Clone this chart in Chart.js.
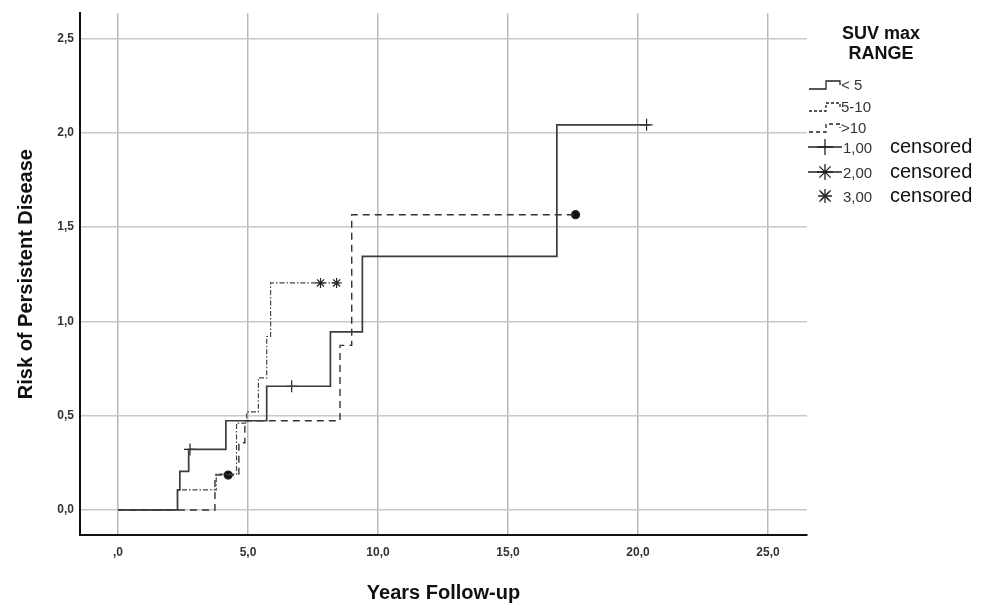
<!DOCTYPE html>
<html>
<head>
<meta charset="utf-8">
<script src="https://cdn.jsdelivr.net/npm/chart.js@4.4.1/dist/chart.umd.min.js"></script>
<style>
html, body { margin: 0; padding: 0; background: #fff; }
</style>
</head>
<body>
<canvas id="kmChart" width="992" height="605"></canvas>
<script>
// Cumulative hazard, step curves per SUV max range
const lt5Years = [0, 2.29, 2.38, 2.72, 4.15, 5.72, 8.17, 9.40, 16.88, 20.45];
const lt5Risk = [0, 0.106, 0.205, 0.321, 0.473, 0.656, 0.945, 1.345, 2.043, 2.043];
const lt5CensorYears = [2.77, 6.68, 20.33];
const lt5CensorRisk = [0.321, 0.656, 2.043];

const midYears = [0, 2.29, 3.78, 4.56, 4.95, 5.40, 5.72, 5.87, 8.41];
const midRisk = [0, 0.106, 0.19, 0.46, 0.52, 0.70, 0.92, 1.204, 1.204];
const midCensorYears = [7.79, 8.41];
const midCensorRisk = [1.204, 1.204];

const gt10Years = [0, 3.73, 4.65, 4.88, 8.54, 8.99, 17.6];
const gt10Risk = [0, 0.185, 0.356, 0.473, 0.873, 1.566, 1.566];
const gt10CensorYears = [4.24, 17.6];
const gt10CensorRisk = [0.185, 1.566];

const xTickValues = [0, 5, 10, 15, 20, 25];
const xTickLabels = [',0', '5,0', '10,0', '15,0', '20,0', '25,0'];
const yTickValues = [0, 0.5, 1, 1.5, 2, 2.5];
const yTickLabels = ['0,0', '0,5', '1,0', '1,5', '2,0', '2,5'];

const legendTitle = ['SUV max', 'RANGE'];
const groupLabels = ['< 5', '5-10', '>10'];
const censorLabels = ['1,00', '2,00', '3,00'];

const toPoints = (xs, ys) => xs.map((x, i) => ({ x: x, y: ys[i] }));

function stepLine(label, xs, ys, color, width, dash) {
    return {
        label: label,
        data: toPoints(xs, ys),
        showLine: true,
        stepped: 'before',
        borderColor: color,
        borderWidth: width,
        borderDash: dash,
        pointRadius: 0,
        fill: false
    };
}

function censorMarks(label, xs, ys, style, radius) {
    return {
        label: label,
        data: toPoints(xs, ys),
        showLine: false,
        pointStyle: style,
        pointRadius: radius,
        pointBorderColor: '#222',
        pointBackgroundColor: '#111',
        pointBorderWidth: 1.2
    };
}

const tickFont = { family: "'Liberation Sans Narrow', 'Liberation Sans', Arial", size: 12, weight: 'bold' };
const titleFont = { family: "'Liberation Sans', Arial", size: 20, weight: 'bold' };

// legend on the right, drawn by hand
const sideLegend = {
    id: 'sideLegend',
    afterDraw(chart) {
        const c = chart.ctx;
        c.save();
        c.fillStyle = '#111';
        c.textAlign = 'center';
        c.textBaseline = 'middle';
        c.font = "bold 18px 'Liberation Sans', Arial";
        c.fillText(legendTitle[0], 881, 34);
        c.fillText(legendTitle[1], 881, 54);

        const rows = [85, 107, 128];
        const dashes = [[], [3, 2], [4, 3]];
        c.strokeStyle = '#222';
        c.lineWidth = 1.3;
        rows.forEach((y, i) => {
            c.setLineDash(dashes[i]);
            c.beginPath();
            c.moveTo(809, y + 4);
            c.lineTo(826, y + 4);
            c.lineTo(826, y - 4);
            c.lineTo(840, y - 4);
            c.lineTo(840, y);
            c.stroke();
        });
        c.setLineDash([]);
        c.textAlign = 'left';
        c.font = "15px 'Liberation Sans', Arial";
        c.fillStyle = '#333';
        rows.forEach((y, i) => c.fillText(groupLabels[i], 841, y + 1));

        const cRows = [147, 172, 196];
        const styles = ['cross', 'star', 'crossRot'];
        cRows.forEach((y, i) => {
            if (i < 2) {
                c.beginPath();
                c.moveTo(808, y);
                c.lineTo(842, y);
                c.stroke();
            }
            Chart.helpers.drawPoint(c, { pointStyle: styles[i], radius: 8, borderWidth: 1.3 }, 825, y);
            if (i === 2) {
                Chart.helpers.drawPoint(c, { pointStyle: 'cross', radius: 7, borderWidth: 2.5 }, 825, y);
                Chart.helpers.drawPoint(c, { pointStyle: 'crossRot', radius: 6, borderWidth: 2.5 }, 825, y);
            }
            c.fillStyle = '#333';
            c.font = "15px 'Liberation Sans', Arial";
            c.fillText(censorLabels[i], 843, y + 2);
            c.fillStyle = '#111';
            c.font = "20px 'Liberation Sans', Arial";
            c.fillText('censored', 890, y);
        });
        c.restore();
    }
};

new Chart(document.getElementById('kmChart'), {
    type: 'scatter',
    data: {
        datasets: [
            stepLine(groupLabels[0], lt5Years, lt5Risk, '#3c3c3c', 1.7, []),
            stepLine(groupLabels[1], midYears, midRisk, '#444', 1.2, [5, 2, 1.5, 2]),
            stepLine(groupLabels[2], gt10Years, gt10Risk, '#333', 1.4, [7, 5]),
            censorMarks(censorLabels[0], lt5CensorYears, lt5CensorRisk, 'cross', 6),
            censorMarks(censorLabels[1], midCensorYears, midCensorRisk, 'star', 5),
            censorMarks(censorLabels[2], gt10CensorYears, gt10CensorRisk, 'circle', 4)
        ]
    },
    options: {
        responsive: false,
        animation: false,
        layout: { padding: { top: 12, right: 185, left: 0, bottom: 0 } },
        plugins: {
            legend: { display: false },
            tooltip: { enabled: false }
        },
        scales: {
            x: {
                type: 'linear',
                min: -1.46,
                max: 26.5,
                afterBuildTicks: s => { s.ticks = xTickValues.map(v => ({ value: v })); },
                afterFit: s => { s.height = 70; },
                ticks: {
                    font: tickFont,
                    color: '#333',
                    padding: 10,
                    maxRotation: 0,
                    callback: v => xTickLabels[xTickValues.indexOf(v)]
                },
                grid: { color: '#b8b8b8', lineWidth: 1.5, drawTicks: false },
                border: { display: true, color: '#111', width: 2 },
                title: {
                    display: true,
                    text: 'Years Follow-up',
                    font: titleFont,
                    color: '#111',
                    padding: { top: 4, bottom: 0 }
                }
            },
            y: {
                type: 'linear',
                min: -0.133,
                max: 2.635,
                afterBuildTicks: s => { s.ticks = yTickValues.map(v => ({ value: v })); },
                afterFit: s => { s.width = 80; },
                ticks: {
                    font: tickFont,
                    color: '#333',
                    padding: 6,
                    callback: v => yTickLabels[yTickValues.indexOf(v)]
                },
                grid: { color: '#c8c8c8', lineWidth: 1.5, drawTicks: false },
                border: { display: true, color: '#111', width: 2 },
                title: {
                    display: true,
                    text: 'Risk of Persistent Disease',
                    font: titleFont,
                    color: '#111',
                    padding: { top: 14, bottom: 0 }
                }
            }
        }
    },
    plugins: [sideLegend]
});
</script>
</body>
</html>
